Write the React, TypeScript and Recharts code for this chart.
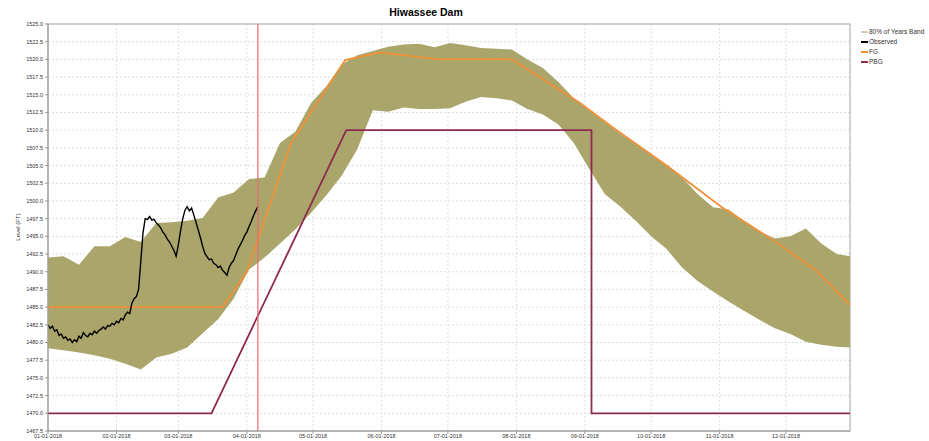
import {
  ComposedChart,
  Area,
  Line,
  XAxis,
  YAxis,
  CartesianGrid,
  ReferenceLine,
  ReferenceArea,
  Legend,
} from 'recharts';

// x axis is day-of-year 2018 (0 = Jan 1)
const monthTicks = [0, 31, 59, 90, 120, 151, 181, 212, 243, 273, 304, 334];
const monthLabels = [
  '01-01-2018', '02-01-2018', '03-01-2018', '04-01-2018', '05-01-2018', '06-01-2018',
  '07-01-2018', '08-01-2018', '09-01-2018', '10-01-2018', '11-01-2018', '12-01-2018',
];
const yTicks = [
  1467.5, 1470, 1472.5, 1475, 1477.5, 1480, 1482.5, 1485, 1487.5, 1490, 1492.5, 1495,
  1497.5, 1500, 1502.5, 1505, 1507.5, 1510, 1512.5, 1515, 1517.5, 1520, 1522.5, 1525,
];

// 80% of years band
const bandDays = [
  0, 7, 14, 21, 28, 35, 42, 49, 56, 63, 70, 77, 84, 91, 98, 105, 112, 119, 126, 133, 140,
  147, 154, 161, 168, 175, 182, 189, 196, 203, 210, 217, 224, 231, 238, 245, 252, 259, 266,
  273, 280, 287, 294, 301, 308, 315, 322, 329, 336, 343, 350, 357, 363,
];
const bandUpper = [
  1492.0, 1492.2, 1491.0, 1493.6, 1493.6, 1494.9, 1494.2, 1496.9, 1497.0, 1497.2, 1497.6,
  1500.5, 1501.2, 1503.1, 1503.3, 1508.2, 1509.8, 1513.8, 1516.2, 1519.3, 1520.6, 1521.2,
  1521.8, 1522.1, 1522.2, 1521.7, 1522.3, 1522.0, 1521.6, 1521.5, 1521.4, 1520.0, 1518.8,
  1516.8, 1514.5, 1512.8, 1511.2, 1509.5, 1508.0, 1506.5, 1505.0, 1503.3, 1501.0, 1499.1,
  1498.8, 1497.2, 1495.7, 1494.7, 1495.0, 1496.1, 1494.0, 1492.5, 1492.2,
];
const bandLower = [
  1479.2, 1478.9, 1478.6, 1478.2, 1477.7, 1477.0, 1476.2, 1477.9, 1478.4, 1479.3, 1481.3,
  1483.3, 1486.2, 1490.3, 1492.0, 1494.0, 1496.0, 1498.3, 1500.8, 1503.6, 1507.3, 1512.8,
  1512.6, 1513.2, 1513.0, 1513.0, 1513.1, 1514.0, 1514.7, 1514.5, 1514.2, 1513.0, 1512.2,
  1510.8, 1508.2, 1504.5, 1501.0, 1499.2, 1497.2, 1495.0, 1493.2, 1490.6, 1488.7, 1487.2,
  1485.8, 1484.5, 1483.2, 1482.0, 1481.2, 1480.1, 1479.7, 1479.4, 1479.3,
];

// observed daily level from Jan 1
const observedLevels = [
  1482.5, 1482.0, 1482.3, 1481.6, 1481.8, 1481.0, 1481.2, 1480.6, 1480.8, 1480.3,
  1480.5, 1480.0, 1480.4, 1480.1, 1480.9, 1480.6, 1481.4, 1481.0, 1480.8, 1481.3,
  1481.1, 1481.6, 1481.3, 1481.7, 1481.9, 1482.2, 1481.9, 1482.4, 1482.3, 1482.7,
  1482.5, 1483.0, 1482.8, 1483.4, 1483.2, 1483.9, 1484.3, 1484.1, 1485.6, 1486.2,
  1486.5, 1487.5, 1491.5, 1495.5, 1497.5, 1497.4, 1497.8, 1497.3, 1497.4, 1496.9,
  1496.6, 1496.2, 1495.6, 1495.2, 1494.6, 1494.2, 1493.6, 1493.0, 1492.2, 1493.8,
  1495.8, 1497.5, 1498.7, 1499.2, 1498.6, 1499.0, 1498.0, 1497.0, 1495.9, 1494.8,
  1493.6, 1492.6, 1492.1, 1491.7, 1491.8, 1491.2, 1491.0, 1490.6, 1490.8, 1490.2,
  1489.9, 1489.5, 1490.6, 1491.2, 1491.6, 1492.4, 1493.2, 1493.8, 1494.4, 1495.1,
  1495.6, 1496.4, 1497.1, 1497.9, 1498.6, 1499.2,
];

const fgDays = [0, 79, 90, 110, 134.5, 150, 177, 210, 241, 256, 280, 305, 328, 348, 363];
const fgLevels = [
  1485, 1485, 1490, 1508.2, 1519.9, 1521, 1520, 1520, 1513.8, 1510.3, 1505, 1499.1,
  1494.5, 1490.1, 1485.3,
];

const pbgDays = [0, 74, 135, 246, 246, 363];
const pbgLevels = [1470, 1470, 1510, 1510, 1470, 1470];

const currentDay = 95;

const legendItems = [
  { name: '80% of Years Band', color: '#cfd0b4' },
  { name: 'Observed', color: '#000000' },
  { name: 'FG', color: '#f0913a' },
  { name: 'PBG', color: '#8e2a52' },
];

const bandData = bandDays.map((day, i) => ({ day, band: [bandLower[i], bandUpper[i]] }));
const observedData = observedLevels.map((level, day) => ({ day, level }));
const fgData = fgDays.map((day, i) => ({ day, level: fgLevels[i] }));
const pbgData = pbgDays.map((day, i) => ({ day, level: pbgLevels[i] }));

const font = '"Liberation Sans", Arial, sans-serif';

function ChartLegend() {
  return (
    <div style={{ fontFamily: font, fontSize: 6.5, color: '#333', lineHeight: '10px' }}>
      {legendItems.map((item) => (
        <div key={item.name} style={{ display: 'flex', alignItems: 'center' }}>
          <span
            style={{
              display: 'inline-block',
              width: 7,
              height: 1.5,
              background: item.color,
              marginRight: 1,
            }}
          />
          {item.name}
        </div>
      ))}
    </div>
  );
}

export default function App() {
  return (
    <div
      style={{
        position: 'absolute',
        left: 0,
        top: 0,
        width: 929,
        height: 441,
        background: '#fff',
        fontFamily: font,
      }}
    >
      <div
        style={{
          position: 'absolute',
          left: 0,
          width: 852,
          top: 6,
          textAlign: 'center',
          fontWeight: 'bold',
          fontSize: 10.5,
        }}
      >
        Hiwassee Dam
      </div>
      <ComposedChart
        width={929}
        height={441}
        margin={{ top: 24, right: 79, left: 0, bottom: 0 }}
      >
        <CartesianGrid stroke="#dedede" strokeDasharray="2 2" />
        <XAxis
          dataKey="day"
          type="number"
          domain={[0, 363]}
          ticks={monthTicks}
          tickFormatter={(v: number) => monthLabels[monthTicks.indexOf(v)] ?? ''}
          height={10}
          tickSize={3}
          tickMargin={0}
          interval={0}
          allowDataOverflow
          axisLine={{ stroke: '#999' }}
          tickLine={{ stroke: '#999' }}
          tick={{ fontSize: 5.5, fill: '#333' }}
        />
        <YAxis
          type="number"
          domain={[1467.5, 1525]}
          ticks={yTicks}
          interval={0}
          width={48}
          tickSize={3}
          tickMargin={2}
          allowDataOverflow
          tickFormatter={(v: number) => v.toFixed(1)}
          axisLine={{ stroke: '#999' }}
          tickLine={{ stroke: '#999' }}
          tick={{ fontSize: 5.5, fill: '#333' }}
          label={{
            content: () => (
              <text
                x={20}
                y={227}
                transform="rotate(-90, 20, 227)"
                textAnchor="middle"
                fontSize={6}
                fill="#333"
              >
                Level (FT)
              </text>
            ),
          }}
        />
        <ReferenceArea
          x1={0}
          x2={363}
          y1={1467.5}
          y2={1525}
          fill="none"
          stroke="#c4c4c4"
          strokeWidth={1.5}
        />
        <Area
          data={bandData}
          dataKey="band"
          type="linear"
          stroke="none"
          fill="#aaa66b"
          fillOpacity={1}
          isAnimationActive={false}
        />
        <Line
          data={pbgData}
          dataKey="level"
          type="linear"
          stroke="#8e2a52"
          strokeWidth={1.8}
          dot={false}
          isAnimationActive={false}
        />
        <Line
          data={fgData}
          dataKey="level"
          type="linear"
          stroke="#f0913a"
          strokeWidth={1.8}
          dot={false}
          isAnimationActive={false}
        />
        <Line
          data={observedData}
          dataKey="level"
          type="linear"
          stroke="#000"
          strokeWidth={1.4}
          dot={false}
          isAnimationActive={false}
        />
        <ReferenceLine x={currentDay} stroke="#e46a6a" strokeWidth={1.2} />
        <Legend
          layout="vertical"
          align="center"
          verticalAlign="middle"
          content={() => <ChartLegend />}
          wrapperStyle={{ left: 861, top: 27, width: 70, height: 42 }}
        />
      </ComposedChart>
    </div>
  );
}
